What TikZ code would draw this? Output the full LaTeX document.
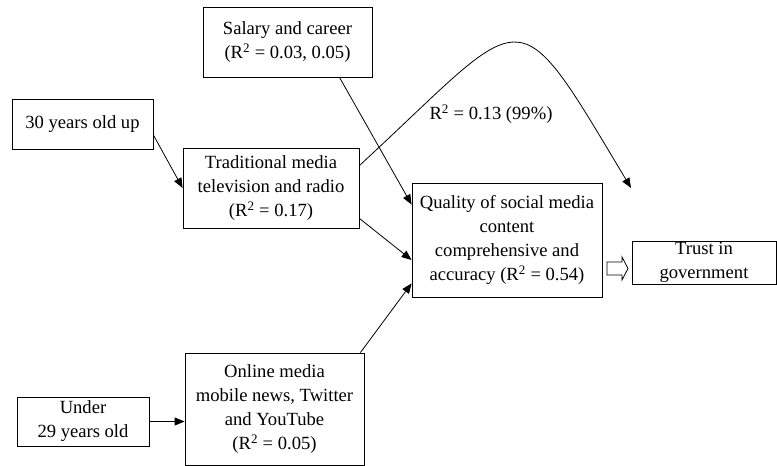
\documentclass[tikz,border=0pt]{standalone}
\usepackage{fontspec}
\setmainfont{Liberation Serif}
\usetikzlibrary{arrows.meta}
\begin{document}
\begin{tikzpicture}[x=1pt,y=-1pt,
  box/.style={draw,line width=0.8pt,inner sep=0pt,align=center,
    font=\fontsize{18.6}{24}\selectfont},
  conn/.style={line width=0.8pt,-{Triangle[length=10pt,width=8pt]}}]
\useasboundingbox (0,0) rectangle (777,466);
\node[box,minimum width=169pt,minimum height=70pt] (sal) at (287.5,42)
  {Salary and career\\(R\textsuperscript{2} = 0.03, 0.05)};
\node[box,minimum width=141pt,minimum height=50pt] (old) at (82.5,124)
  {30 years old up};
\node[box,minimum width=176pt,minimum height=80pt] (trad) at (271,188)
  {Traditional media\\television and radio\\(R\textsuperscript{2} = 0.17)};
\node[box,minimum width=190pt,minimum height=114pt] (qual) at (507,240)
  {Quality of social media\\content\\comprehensive and\\accuracy (R\textsuperscript{2} = 0.54)};
\node[box,minimum width=144pt,minimum height=43pt] (trust) at (704,262.5)
  {Trust in\\government};
\node[box,minimum width=132pt,minimum height=49pt] (under) at (83,421.5)
  {Under\\29 years old};
\node[box,minimum width=179pt,minimum height=112pt] (online) at (274.5,409)
  {Online media\\mobile news, Twitter\\and YouTube\\(R\textsuperscript{2} = 0.05)};
\node[font=\fontsize{18.6}{24}\selectfont,inner sep=0pt] (lab) at (491,114)
  {R\textsuperscript{2} = 0.13 (99\%)};
\coordinate (cend) at (631,188);
% connectors
\draw[conn] ([yshift=-11pt]old.east) -- (trad.west);
\draw[conn] ([xshift=52pt]sal.south) -- ([yshift=-22pt]qual.north west);
\draw[conn] ([yshift=10pt]trad.south east) -- ([yshift=-20pt]qual.west);
\draw[conn] ([xshift=-4pt]online.north east) -- ([yshift=14pt]qual.south west);
\draw[conn] (under.east) -- (under.east -| online.west);
\draw[conn] ([yshift=-18pt]trad.north east) .. controls (530,8) and (512,-11) .. (cend);
% hollow arrow
\draw[line width=0.8pt,fill=white] (607,262) -- (622,262) -- (622,257) -- (628,268.5)
  -- (622,280) -- (622,275) -- (607,275) -- cycle;
\end{tikzpicture}
\end{document}
